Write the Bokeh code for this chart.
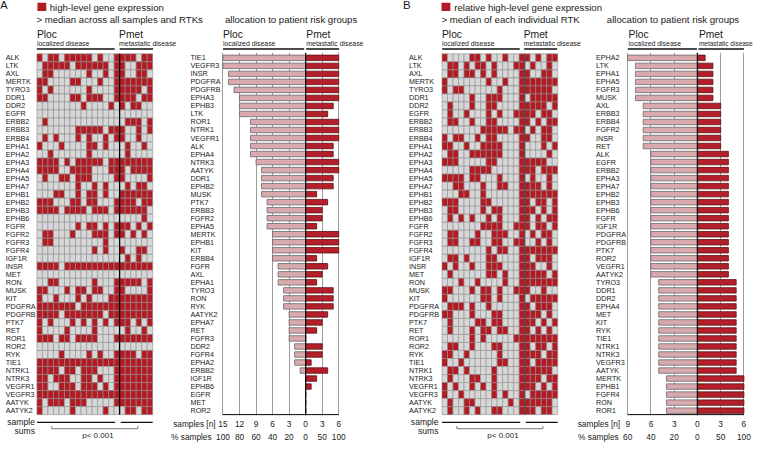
from bokeh.plotting import figure
from bokeh.layouts import column, row
from bokeh.models import Range1d, FixedTicker, LinearAxis, Span
from bokeh.core.properties import value
from bokeh.embed import file_html
from bokeh.resources import INLINE

# ------------------------------------------------------------------ data
genes = ["ALK", "LTK", "AXL", "MERTK", "TYRO3", "DDR1", "DDR2", "EGFR", "ERBB2", "ERBB3",
         "ERBB4", "EPHA1", "EPHA2", "EPHA3", "EPHA4", "EPHA5", "EPHA7", "EPHB1", "EPHB2",
         "EPHB3", "EPHB6", "FGFR", "FGFR2", "FGFR3", "FGFR4", "IGF1R", "INSR", "MET", "RON",
         "MUSK", "KIT", "PDGFRA", "PDGFRB", "PTK7", "RET", "ROR1", "ROR2", "RYK", "TIE1",
         "NTRK1", "NTRK3", "VEGFR1", "VEGFR3", "AATYK", "AATYK2"]

# panel A heatmap (1 = high-level expression), 15 Ploc samples + 6 Pmet samples
heat_a_ploc = ["101101111101001", "011111011111101", "011000000100101", "110000110001001",
               "101000000100001", "110000110111001", "000000001000010", "000000000000000",
               "010000000000000", "000000011111011", "010100010100101", "100010000110100",
               "001000000100000", "111101011111011", "111100111100011", "010011011100001",
               "000000010010100", "000110010110100", "111000110110001", "111101111011101",
               "000000000000000", "000000010110101", "011000100011101", "011000000000100",
               "000000000010100", "000000000000000", "111101111111111", "000000000000000",
               "001100000010001", "110001011011001", "100100010100011", "111111101111111",
               "111101111111011", "101000101010101", "100001000010000", "111011011110001",
               "000000000000000", "000010000101001", "111111111111111", "111101101110001",
               "110111001101001", "110011101110101", "111111111111111", "101110111000001",
               "100000100000100"]
heat_a_pmet = ["111011", "100111", "100110", "111111", "111101", "111011", "101100", "000000",
               "011101", "100101", "100100", "010010", "010000", "111111", "101111", "100001",
               "010110", "111111", "111011", "111110", "000010", "110101", "101010", "000000",
               "100110", "010100", "111111", "000000", "111101", "100001", "111111", "111111",
               "111111", "110101", "010010", "111111", "000000", "111011", "111111", "111111",
               "111111", "111111", "111111", "111111", "011011"]

# panel B heatmap (relative to median of each RTK)
heat_b_ploc = ["100001101001001", "011010110100011", "011011010100001", "100000001001001",
               "101100000010001", "000001001110001", "010001001100001", "010010001010011",
               "011001001100001", "000000011111011", "101100101100001", "110010011110001",
               "011001111110001", "111000001100001", "000001111000001", "111101100010001",
               "001100010011001", "000110010000001", "111000011000001", "011000010110001",
               "010101001010001", "000000011110011", "011000100111001", "011001100110011",
               "000000001011001", "011010001100001", "101001001110001", "010000001101001",
               "000100100001001", "110001011010011", "100000011010001", "011101001000001",
               "110001000110001", "010000110110001", "010001011011001", "000001010000011",
               "011001000110001", "110010000010001", "100100000011001", "011010000100001",
               "010001100100001", "101001010100001", "100100000101001", "010011000000101",
               "010010100110001"]
heat_b_pmet = ["101011", "010010", "100110", "111111", "111110", "011111", "111101", "110110",
               "101011", "010110", "100110", "000101", "000010", "111100", "110111", "010010",
               "111010", "111111", "101101", "110101", "101011", "101101", "010110", "001010",
               "111111", "101110", "110010", "111101", "111111", "100100", "011111", "101110",
               "111010", "110101", "101010", "111111", "101101", "111011", "101111", "111110",
               "111011", "110101", "011111", "111110", "110110"]

# panel A allocation bars (number of samples)
bar_a_genes = ["TIE1", "VEGFR3", "INSR", "PDGFRA", "PDGFRB", "EPHA3", "EPHB3", "LTK", "ROR1",
               "NTRK1", "VEGFR1", "ALK", "EPHA4", "NTRK3", "AATYK", "DDR1", "EPHB2", "MUSK",
               "PTK7", "ERBB3", "FGFR2", "EPHA5", "MERTK", "EPHB1", "KIT", "ERBB4", "FGFR",
               "AXL", "EPHA1", "TYRO3", "RON", "RYK", "AATYK2", "EPHA7", "RET", "FGFR3", "DDR2",
               "FGFR4", "EPHA2", "ERBB2", "IGF1R", "EPHB6", "EGFR", "MET", "ROR2"]
bar_a_ploc = [15, 15, 14, 14, 13, 12, 12, 12, 10, 10, 10, 10, 10, 9, 8, 8, 8, 8, 7, 7, 7, 7,
              6, 6, 6, 6, 5, 5, 5, 4, 4, 4, 3, 3, 3, 3, 2, 2, 2, 1, 0, 0, 0, 0, 0]
bar_a_pmet = [6, 6, 6, 6, 6, 6, 5, 4, 6, 6, 6, 5, 5, 6, 6, 5, 5, 2, 4, 3, 3, 2, 6, 6, 6, 2,
              4, 3, 2, 5, 5, 5, 4, 3, 2, 0, 3, 3, 1, 4, 2, 1, 0, 0, 0]

# panel B allocation bars
bar_b_genes = ["EPHA2", "LTK", "EPHA1", "EPHA5", "FGFR3", "MUSK", "AXL", "ERBB3", "ERBB4",
               "FGFR2", "INSR", "RET", "ALK", "EGFR", "ERBB2", "EPHA3", "EPHA7", "EPHB2",
               "EPHB3", "EPHB6", "FGFR", "IGF1R", "PDGFRA", "PDGFRB", "PTK7", "ROR2", "VEGFR1",
               "AATYK2", "TYRO3", "DDR1", "DDR2", "EPHA4", "MET", "KIT", "RYK", "TIE1", "NTRK1",
               "NTRK3", "VEGFR3", "AATYK", "MERTK", "EPHB1", "FGFR4", "RON", "ROR1"]
bar_b_ploc = [9, 8, 8, 8, 8, 8, 7, 7, 7, 7, 7, 7, 6, 6, 6, 6, 6, 6, 6, 6, 6, 6, 6, 6, 6, 6,
              6, 6, 5, 5, 5, 5, 5, 5, 5, 5, 5, 5, 5, 5, 4, 4, 4, 4, 4]
bar_b_pmet = [1, 2, 2, 2, 2, 2, 3, 3, 3, 3, 3, 3, 4, 4, 4, 4, 4, 4, 4, 4, 4, 4, 4, 4, 4, 4,
              4, 4, 5, 5, 5, 5, 5, 5, 5, 5, 5, 5, 5, 5, 6, 6, 6, 6, 6]

# axis ticks (Ploc drawn to the left as negative values)
ticks_a = [-15, -12, -9, -6, -3, 0, 3, 6]
ticks_a_n = ["15", "12", "9", "6", "3", "0", "3", "6"]
ticks_a_pct = ["100", "80", "60", "40", "20", "0", "50", "100"]
ticks_b = [-9, -6, -3, 0, 3, 6]
ticks_b_n = ["9", "6", "3", "0", "3", "6"]
ticks_b_pct = ["60", "40", "20", "0", "50", "100"]
axis_row_names = ["samples [n]", "% samples"]

# ------------------------------------------------------------------ style / layout
FONT = "Liberation Sans"
TXT = "#1a1a1a"
RED = "#b31b24"
GRAY = "#d7d7d7"
CELL_LINE = "#8e8e8e"
PINK = "#d9a9ad"
PINK_LINE = "#6a6a6a"
BAR_RED = "#b41f29"
BAR_RED_LINE = "#5c1015"
TICK_SIZE = 8.3
NAME_EM = {"samples [n]": 5.113, "% samples": 4.89}

SX = 755 / 767
SY = 439 / 447
W_HA, W_BA, W_HB, W_BB = 155, 217, 187, 196
H_HEAD = 52
H_ROWS = 439 - H_HEAD
BAR_FRAME_H = 363
REF_ROW_TOP = 59.3
REF_PITCH = 8.164
PITCH = REF_PITCH * SY
ROW_TOP_LOCAL = 8 + (REF_ROW_TOP - 5) * SY - (8 + H_HEAD)
Y_TOP = -0.5 - ROW_TOP_LOCAL / PITCH
N = len(genes)


def X(ref_x):
    return 8 + (ref_x - 2) * SX


def ry(ref_y):
    return (ref_y - REF_ROW_TOP) / REF_PITCH - 0.5


def base_fig(**kw):
    p = figure(title=None, toolbar_location=None, output_backend="svg",
               x_axis_location=None, y_axis_location=None, **kw)
    p.grid.visible = False
    p.outline_line_color = None
    p.background_fill_color = "white"
    p.border_fill_color = "white"
    p.frame_align = False
    return p


def txt(p, xs, ys, texts, size, align="left", baseline="middle"):
    p.text(x=xs, y=ys, text=texts, text_font=value(FONT), text_font_size=value(size),
           text_align=align, text_baseline=baseline, text_color=TXT)


def heat_figure(width, page_start, ref_left, ref_label, ref_sample, ploc, pmet, sep_color):
    cw = 5.6 * SX
    xs = -(X(ref_left) - page_start) / cw
    p = base_fig(frame_width=width, frame_height=H_ROWS, min_border=0,
                 x_range=Range1d(xs, xs + width / cw),
                 y_range=Range1d(Y_TOP + H_ROWS / PITCH, Y_TOP))
    cx, cy, cc = [], [], []
    for r, (a, b) in enumerate(zip(ploc, pmet)):
        for c, ch in enumerate(a + b):
            cx.append(c + 0.5)
            cy.append(r)
            cc.append(RED if ch == "1" else GRAY)
    p.rect(x=cx, y=cy, width=1, height=1, fill_color=cc, line_color=CELL_LINE, line_width=0.6)
    p.segment(x0=[15], y0=[-0.5], x1=[15], y1=[N - 0.5], line_color=sep_color, line_width=1.3)
    lab = (ref_label - ref_left) / 5.6
    txt(p, [lab] * N, list(range(N)), genes, "7.2px")
    # sample sums
    ys = ry(434.5)
    sx_ = (ref_sample - ref_left) / 5.6
    txt(p, [sx_, sx_], [ys, ry(443.3)], ["sample", "sums"], "8.6px", align="right")
    p.segment(x0=[0, 15.2], y0=[ys, ys], x1=[14.2, 21], y1=[ys, ys], line_color="#111",
              line_width=1.3)
    yb = ry(441.0)
    p.line(x=[2.7, 2.7, 18.3, 18.3], y=[yb - 0.33, yb, yb, yb - 0.33], line_color="#666",
           line_width=0.9)
    txt(p, [11.07], [ry(448.3)], ["p< 0.001"], "8px", align="center", baseline="alphabetic")
    return p


def bar_figure(width, page_start, ref_zero, ref_unit, ref_name, ref_lab_rights,
               order, ploc, pmet, ticks, lab_n, lab_pct):
    u = ref_unit * SX
    xs = -(X(ref_zero) - page_start) / u
    p = base_fig(frame_width=width, frame_height=BAR_FRAME_H, min_border_left=0,
                 min_border_right=0, min_border_top=0, min_border_bottom=H_ROWS - BAR_FRAME_H,
                 x_range=Range1d(xs, xs + width / u),
                 y_range=Range1d(Y_TOP + BAR_FRAME_H / PITCH, Y_TOP))
    p.xgrid.visible = True
    p.xgrid.ticker = FixedTicker(ticks=[t for t in ticks if t != 0])
    p.xgrid.grid_line_color = "#9c9c9c"
    p.xgrid.grid_line_width = 1
    rows = list(range(len(order)))
    p.hbar(y=rows, left=[-v for v in ploc], right=0, height=0.68, fill_color=PINK,
           line_color=PINK_LINE, line_width=0.8)
    p.hbar(y=rows, left=0, right=pmet, height=0.68, fill_color=BAR_RED,
           line_color=BAR_RED_LINE, line_width=0.8)
    p.add_layout(Span(location=0, dimension="height", line_color="#111", line_width=1.3))
    txt(p, [(ref_name - ref_zero) / ref_unit] * len(order), rows, order, "7.2px")
    # axis base line at the bottom of the last row
    p.segment(x0=[ticks[0]], x1=[ticks[-1]], y0=[N - 0.5], y1=[N - 0.5],
              line_color="#222", line_width=1.3)
    for i, (labels, standoff) in enumerate(((lab_n, 3), (lab_pct, 0))):
        name = axis_row_names[i]
        half_ref = NAME_EM[name] * TICK_SIZE / 2 / SX
        name_pos = round((ref_lab_rights[i] - half_ref - ref_zero) / ref_unit, 3)
        tk = [name_pos] + ticks
        ov = {t: s for t, s in zip(ticks, labels)}
        ov[name_pos] = name
        ax = LinearAxis(ticker=FixedTicker(ticks=tk), major_label_overrides=ov,
                        bounds=(name_pos - 1, ticks[-1]), major_tick_out=0, major_tick_in=0,
                        minor_tick_out=0, minor_tick_in=0, axis_line_color=None,
                        major_label_standoff=standoff, major_label_text_font=FONT,
                        major_label_text_font_size=f"{TICK_SIZE}px",
                        major_label_text_color=TXT)
        p.add_layout(ax, "below")
    return p


# ------------------------------------------------------------------ header strip
def hx(r):
    return (r - 2) * SX


def hy(r):
    return (r - 5) * SY


hd = base_fig(frame_width=755, frame_height=H_HEAD, min_border=0,
              x_range=Range1d(0, 755), y_range=Range1d(H_HEAD, 0))
txt(hd, [hx(1.5), hx(411)], [hy(9.5), hy(9.5)], ["A", "B"], "11.5px")
hd.quad(left=[hx(39.5), hx(450)], right=[hx(48.5), hx(459)],
        top=[hy(7.3), hy(7.3)], bottom=[hy(15.8), hy(15.8)], fill_color=RED, line_color=None)
txt(hd, [hx(52), hx(463), hx(38.5), hx(450), hx(230), hx(618)],
    [hy(12)] * 2 + [hy(24.5)] * 4,
    ["high-level gene expression", "relative high-level gene expression",
     "> median across all samples and RTKs", "> median of each individual RTK",
     "allocation to patient risk groups", "allocation to patient risk groups"], "9.6px")
group_x = [39, 122.5, 228, 312.7, 450.5, 533.5, 640, 711.5]
txt(hd, [hx(v) for v in group_x], [hy(39.5)] * 8, ["Ploc", "Pmet"] * 4, "10.3px")
txt(hd, [hx(v) for v in group_x[:-1]], [hy(48.7)] * 7,
    ["localized disease", "metastatic disease"] * 3 + ["localized disease"], "6.9px")
txt(hd, [hx(group_x[-1])], [hy(48.7)], ["metastatic disease"], "6.5px")
ul_x0 = [39, 123, 228, 312.5, 450.7, 534, 639.3, 711]
ul_x1 = [118, 157, 310.5, 346, 529.5, 567.5, 709.5, 757.3]
hd.segment(x0=[hx(v) for v in ul_x0], x1=[hx(v) for v in ul_x1], y0=[hy(54.4)] * 8,
           y1=[hy(54.4)] * 8, line_color="#111", line_width=1.3)

# ------------------------------------------------------------------ panels
fa = heat_figure(W_HA, 8, 39, 7.3, 37, heat_a_ploc, heat_a_pmet, "#000")
ba = bar_figure(W_BA, 8 + W_HA, 312, 5.6, 195, (220.5, 216.5), bar_a_genes, bar_a_ploc,
                bar_a_pmet, ticks_a, ticks_a_n, ticks_a_pct)
fb = heat_figure(W_HB, 8 + W_HA + W_BA, 450.5, 417, 447, heat_b_ploc, heat_b_pmet, "#4d4d4d")
bb = bar_figure(W_BB, 8 + W_HA + W_BA + W_HB, 710, 7.87, 607, (631.5, 630), bar_b_genes,
                bar_b_ploc, bar_b_pmet, ticks_b, ticks_b_n, ticks_b_pct)

layout = column(hd, row(fa, ba, fb, bb, spacing=0), spacing=0)
open("out.html", "w").write(file_html(layout, INLINE))
